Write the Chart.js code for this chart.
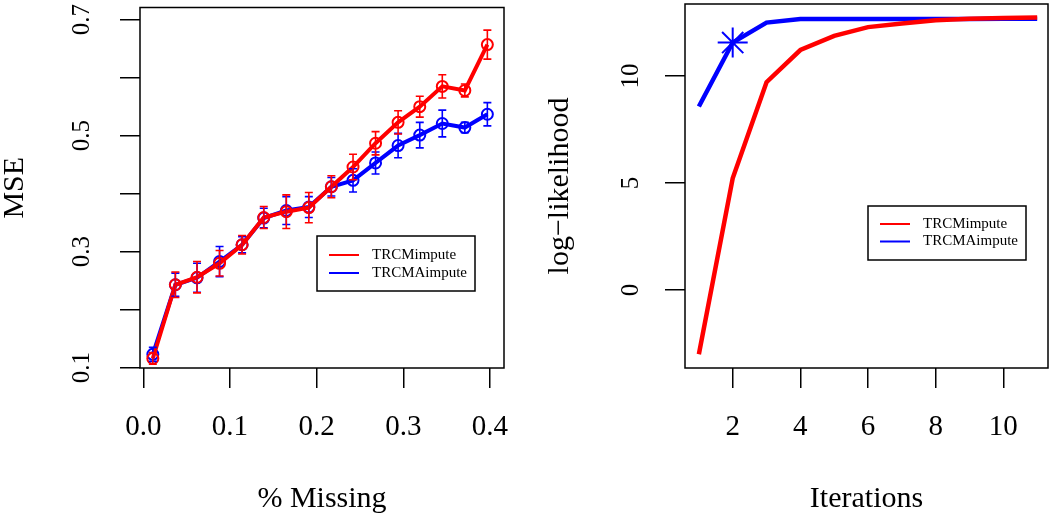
<!DOCTYPE html>
<html>
<head>
<meta charset="utf-8">
<script src="https://cdn.jsdelivr.net/npm/chart.js@4.4.1/dist/chart.umd.min.js"></script>
<style>
  body { margin: 0; background: #fff; }
  #wrap { position: relative; width: 1050px; height: 514px; }
  canvas { position: absolute; top: 0; }
</style>
</head>
<body>
<div id="wrap">
  <canvas id="mseChart" width="525" height="514" style="left:0"></canvas>
  <canvas id="llChart" width="525" height="514" style="left:525px"></canvas>
</div>
<script>
// Left panel: MSE vs % missing
const missing = [0.011, 0.037, 0.062, 0.088, 0.114, 0.139, 0.165, 0.191, 0.217, 0.242, 0.268, 0.294, 0.319, 0.345, 0.371, 0.397];
const mseTrcm  = [0.116, 0.243, 0.256, 0.280, 0.312, 0.359, 0.369, 0.376, 0.412, 0.446, 0.487, 0.523, 0.550, 0.585, 0.578, 0.657];
const errTrcm  = [0.010, 0.022, 0.027, 0.022, 0.016, 0.019, 0.029, 0.026, 0.019, 0.022, 0.020, 0.020, 0.018, 0.020, 0.011, 0.025];
const mseTrcma = [0.123, 0.243, 0.255, 0.283, 0.312, 0.358, 0.371, 0.377, 0.412, 0.423, 0.453, 0.483, 0.501, 0.521, 0.514, 0.537];
const errTrcma = [0.012, 0.020, 0.025, 0.026, 0.014, 0.017, 0.024, 0.018, 0.016, 0.020, 0.019, 0.021, 0.022, 0.023, 0.009, 0.020];
const missingTicks = [0.0, 0.1, 0.2, 0.3, 0.4];
const mseTicks = [0.1, 0.2, 0.3, 0.4, 0.5, 0.6, 0.7];
const mseLabels = [0.1, 0.3, 0.5, 0.7];

// Right panel: log-likelihood vs iterations
const iterations = [1, 2, 3, 4, 5, 6, 7, 8, 9, 10, 11];
const llTrcm  = [-3.00, 5.22, 9.71, 11.21, 11.87, 12.28, 12.45, 12.60, 12.67, 12.71, 12.73];
const llTrcma = [8.57, 11.56, 12.49, 12.66, 12.66, 12.66, 12.66, 12.66, 12.66, 12.67, 12.67];
const iterTicks = [2, 4, 6, 8, 10];
const llTicks = [0, 5, 10];
const starIteration = 2;

const serif = "Liberation Serif";

function pts(xs, ys) {
    return xs.map((x, i) => ({ x: x, y: ys[i] }));
}

// box around the plotting region
const frame = {
    id: "frame",
    afterDatasetsDraw(chart) {
        const a = chart.chartArea, ctx = chart.ctx;
        ctx.save();
        ctx.strokeStyle = "#000";
        ctx.lineWidth = 1.5;
        ctx.strokeRect(a.left, a.top, a.right - a.left, a.bottom - a.top);
        ctx.restore();
    }
};

// vertical error bars with small caps
const errorBars = {
    id: "errorBars",
    afterDatasetsDraw(chart) {
        const ctx = chart.ctx, ys = chart.scales.y;
        for (let i = chart.data.datasets.length - 1; i >= 0; i--) {
            const ds = chart.data.datasets[i];
            if (!ds.errors) continue;
            const meta = chart.getDatasetMeta(i);
            ctx.save();
            ctx.strokeStyle = ds.borderColor;
            ctx.lineWidth = 1.6;
            meta.data.forEach((el, j) => {
                const v = ds.data[j].y, e = ds.errors[j];
                const top = ys.getPixelForValue(v + e), bot = ys.getPixelForValue(v - e);
                ctx.beginPath();
                ctx.moveTo(el.x, top); ctx.lineTo(el.x, bot);
                ctx.moveTo(el.x - 4, top); ctx.lineTo(el.x + 4, top);
                ctx.moveTo(el.x - 4, bot); ctx.lineTo(el.x + 4, bot);
                ctx.stroke();
            });
            ctx.restore();
        }
    }
};

// y tick labels, rotated like R's default axis labels
const rotatedLabels = {
    id: "rotatedLabels",
    afterDraw(chart, args, opts) {
        const ctx = chart.ctx, ys = chart.scales.y;
        ctx.save();
        ctx.font = opts.size + "px '" + serif + "'";
        ctx.fillStyle = "#000";
        ctx.textAlign = "center";
        ctx.textBaseline = "middle";
        opts.values.forEach(v => {
            ctx.save();
            ctx.translate(chart.chartArea.left - opts.offset, ys.getPixelForValue(v));
            ctx.rotate(-Math.PI / 2);
            ctx.fillText(opts.format(v), 0, 0);
            ctx.restore();
        });
        ctx.restore();
    }
};

// boxed legend placed inside the plot
const boxLegend = {
    id: "boxLegend",
    afterDraw(chart, args, o) {
        const ctx = chart.ctx;
        ctx.save();
        ctx.fillStyle = "#fff";
        ctx.fillRect(o.x, o.y, o.w, o.h);
        ctx.strokeStyle = "#000";
        ctx.lineWidth = 1.5;
        ctx.strokeRect(o.x, o.y, o.w, o.h);
        ctx.font = "15px '" + serif + "'";
        ctx.textAlign = "left";
        ctx.textBaseline = "middle";
        chart.data.datasets.forEach((ds, i) => {
            const yy = o.y + o.first + i * o.gap;
            ctx.strokeStyle = ds.borderColor;
            ctx.lineWidth = 2;
            ctx.beginPath();
            ctx.moveTo(o.x + 12, yy);
            ctx.lineTo(o.x + 42, yy);
            ctx.stroke();
            ctx.fillStyle = "#000";
            ctx.fillText(ds.label, o.x + 55, yy);
        });
        ctx.restore();
    }
};

function noMargins(s) {
    s.paddingLeft = 0; s.paddingRight = 0; s.paddingTop = 0; s.paddingBottom = 0;
}

function axisX(min, max, ticks, fmt, title) {
    return {
        type: "linear", min: min, max: max,
        afterBuildTicks: s => { s.ticks = ticks.map(v => ({ value: v })); },
        afterFit: s => { s.height = 146; noMargins(s); },
        border: { display: false },
        grid: { drawOnChartArea: false, drawTicks: true, tickLength: 20, color: "#000", lineWidth: 1.5 },
        ticks: { color: "#000", font: { family: serif, size: 29 }, padding: 22, maxRotation: 0, autoSkip: false, callback: fmt },
        title: { display: true, text: title, color: "#000", font: { family: serif, size: 30, lineHeight: 1 }, padding: 0 }
    };
}

function axisY(min, max, ticks, width, title, titlePad) {
    return {
        type: "linear", min: min, max: max,
        afterBuildTicks: s => { s.ticks = ticks.map(v => ({ value: v })); },
        afterFit: s => { s.width = width; noMargins(s); },
        border: { display: false },
        grid: { drawOnChartArea: false, drawTicks: true, tickLength: 20, color: "#000", lineWidth: 1.5 },
        ticks: { display: false },
        title: { display: true, text: title, color: "#000", font: { family: serif, size: 30, lineHeight: 1 }, padding: { top: titlePad, bottom: 0 } }
    };
}

new Chart(document.getElementById("mseChart"), {
    type: "line",
    data: {
        datasets: [
            {
                label: "TRCMimpute", data: pts(missing, mseTrcm), errors: errTrcm,
                borderColor: "#ff0000", borderWidth: 4, pointStyle: "circle", pointRadius: 5.5,
                pointBorderWidth: 2, pointBackgroundColor: "rgba(0,0,0,0)", tension: 0
            },
            {
                label: "TRCMAimpute", data: pts(missing, mseTrcma), errors: errTrcma,
                borderColor: "#0000ff", borderWidth: 4, pointStyle: "circle", pointRadius: 5.5,
                pointBorderWidth: 2, pointBackgroundColor: "rgba(0,0,0,0)", tension: 0
            }
        ]
    },
    options: {
        responsive: false,
        animation: false,
        devicePixelRatio: 1,
        layout: { padding: { top: 5, right: 21, left: 0, bottom: 0 } },
        scales: {
            x: axisX(-0.0038, 0.4162, missingTicks, v => v.toFixed(1), "% Missing"),
            y: axisY(0.0995, 0.721, mseTicks, 140, "MSE", 0)
        },
        plugins: {
            legend: { display: false },
            tooltip: { enabled: false },
            rotatedLabels: { values: mseLabels, offset: 58, size: 25, format: v => v.toFixed(1) },
            boxLegend: { x: 317, y: 236, w: 158, h: 55, first: 19, gap: 18 }
        }
    },
    plugins: [frame, errorBars, rotatedLabels, boxLegend]
});

new Chart(document.getElementById("llChart"), {
    type: "line",
    data: {
        datasets: [
            {
                label: "TRCMimpute", data: pts(iterations, llTrcm),
                borderColor: "#ff0000", borderWidth: 4.5, pointRadius: 0, tension: 0
            },
            {
                label: "TRCMAimpute", data: pts(iterations, llTrcma),
                borderColor: "#0000ff", borderWidth: 4.5, tension: 0,
                pointStyle: "star", pointBorderWidth: 2, pointBorderColor: "#0000ff",
                pointRadius: c => (c.raw && c.raw.x === starIteration ? 15 : 0)
            }
        ]
    },
    options: {
        responsive: false,
        animation: false,
        devicePixelRatio: 1,
        layout: { padding: { top: 4, right: 2, left: 0, bottom: 0 } },
        scales: {
            x: axisX(0.59, 11.32, iterTicks, v => String(v), "Iterations"),
            y: axisY(-3.64, 13.36, llTicks, 160, "log\u2212likelihood", 20)
        },
        plugins: {
            legend: { display: false },
            tooltip: { enabled: false },
            rotatedLabels: { values: llTicks, offset: 54, size: 25, format: v => String(v) },
            boxLegend: { x: 343, y: 206, w: 158, h: 54, first: 18, gap: 17.5 }
        }
    },
    plugins: [frame, rotatedLabels, boxLegend]
});
</script>
</body>
</html>
